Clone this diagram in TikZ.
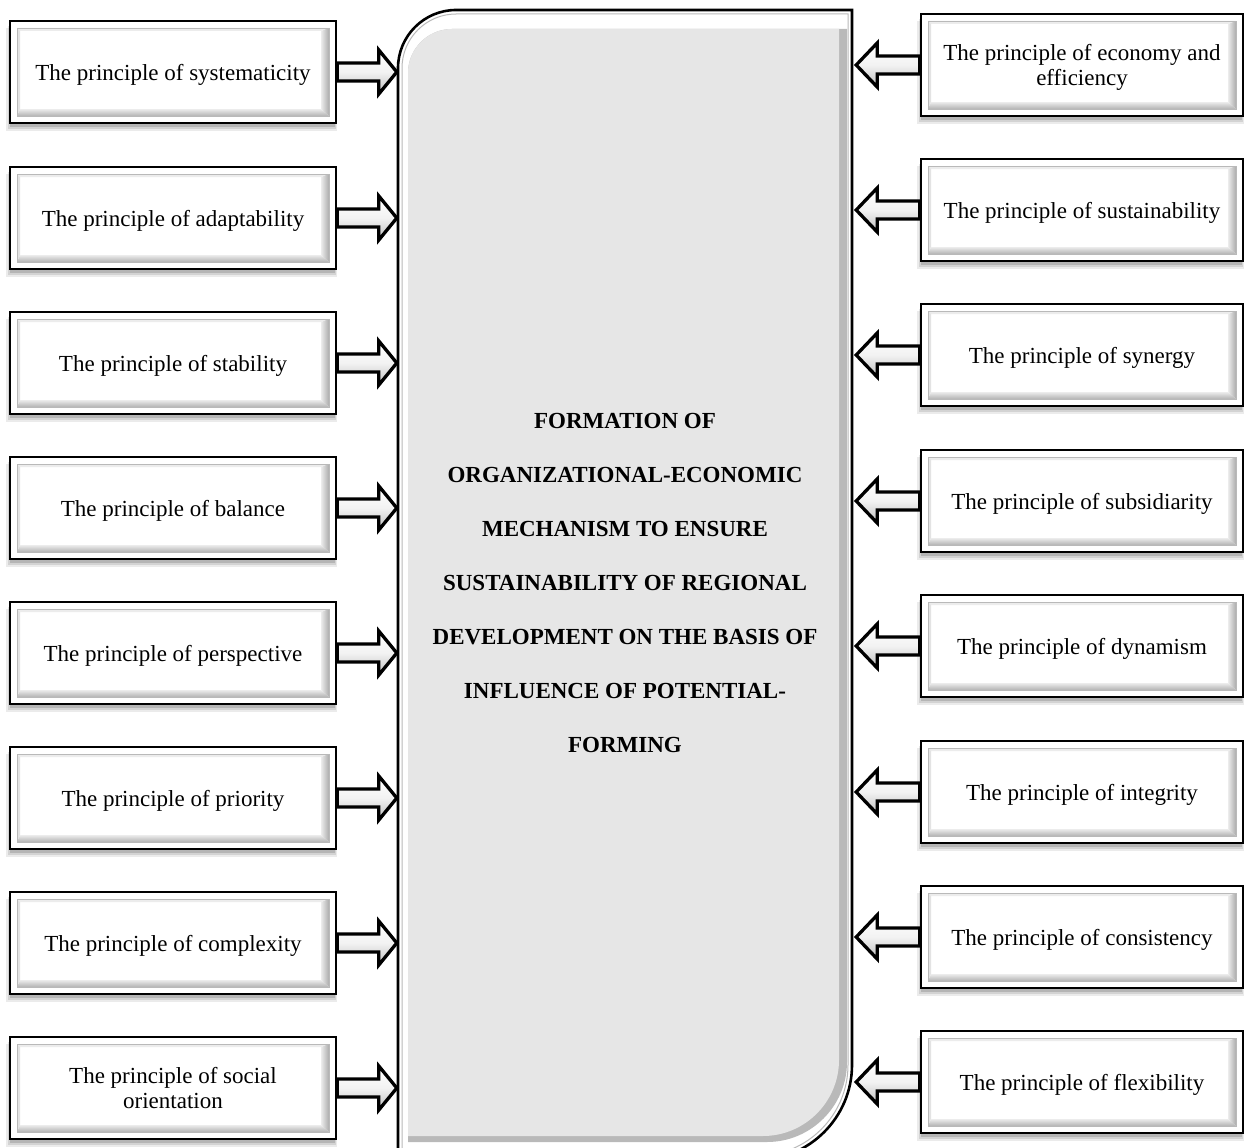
\documentclass[tikz,border=0pt]{standalone}
\usepackage{fontspec}
\setmainfont{Liberation Serif}
\usetikzlibrary{calc}
\definecolor{facegray}{RGB}{230,230,230}
\tikzset{
  boxtext/.style={align=center, font=\fontsize{23}{25}\selectfont, inner sep=0pt, text depth=0pt},
  boxframe/.style={draw=black, line width=2.6pt},
  blockarrow/.style={draw=black, line width=3.3pt, line join=miter, top color=white, bottom color=gray!50, middle color=gray!10},
  coretext/.style={align=center, font=\fontsize{23}{54}\selectfont\bfseries, inner sep=0pt},
}
% central shape: [opts]{L}{T}{R}{B}{r top-left}{r bottom-right}
\newcommand\coreshape[7][]{\path[#1] (#2,#5) -- (#2,{#3+#6}) .. controls (#2,{#3+0.45*#6}) and ({#2+0.45*#6},#3) .. ({#2+#6},#3) -- (#4,#3) -- (#4,{#5-#7}) .. controls (#4,{#5-0.45*#7}) and ({#4-0.45*#7},#5) .. ({#4-#7},#5) -- cycle;}
% principle box: name, cx, cy, half width, text
\newcommand\pbox[5]{%
  \begin{scope}[shift={(#2,#3)}]
    \def\hw{#4}
    \fill[black,opacity=0.08] ({-\hw-4},-44) rectangle ({\hw+1},59);
    \fill[black,opacity=0.10] ({-\hw-2},-46) rectangle ({\hw},57);
    \fill[black,opacity=0.14] ({-\hw},-48) rectangle ({\hw-1},55);
    \fill[white] ({-\hw},-51) rectangle (\hw,51);
    \fill[gray!15] ({-\hw+7},-44) -- ({\hw-7},-44) -- ({\hw-15},-41) -- ({-\hw+10},-41) -- cycle;
    \fill[gray!22] ({-\hw+7},-44) -- ({-\hw+10},-41) -- ({-\hw+10},37) -- ({-\hw+7},44) -- cycle;
    \shade[left color=gray!15, right color=gray!65] ({\hw-7},-44) -- ({\hw-7},44) -- ({\hw-15},37) -- ({\hw-15},-41) -- cycle;
    \shade[top color=gray!15, bottom color=gray!60] ({-\hw+7},44) -- ({-\hw+10},37) -- ({\hw-15},37) -- ({\hw-7},44) -- cycle;
    \draw[gray!55, line width=0.6pt] ({-\hw+7},-44) rectangle ({\hw-7},44);
  \end{scope}
  \node[boxframe, boxtext, minimum width={(2*#4)*1pt}, minimum height=102pt] (#1) at (#2,#3) {#5};
}
% arrow from a left box to the core
\newcommand\toright[1]{%
  \coordinate (s) at (#1.east);
  \coordinate (t) at (#1.east -| core.west);
  \draw[blockarrow] ($(s)+(0,-9)$) -- ($(t)+(-19,-9)$) -- ($(t)+(-19,-22)$) -- ($(t)+(-1,0)$) -- ($(t)+(-19,22)$) -- ($(t)+(-19,9)$) -- ($(s)+(0,9)$) -- cycle;
}
% arrow from a right box to the core
\newcommand\toleft[1]{%
  \coordinate (s) at (#1.west);
  \coordinate (t0) at (#1.west -| core.east);
  \coordinate (t) at ($(t0)+(4,0)$);
  \draw[blockarrow] ($(s)+(0,-9)$) -- ($(t)+(21,-9)$) -- ($(t)+(21,-22)$) -- (t) -- ($(t)+(21,22)$) -- ($(t)+(21,9)$) -- ($(s)+(0,9)$) -- cycle;
}
\begin{document}
\begin{tikzpicture}[x=1pt,y=-1pt]
\fill[white] (0,0) rectangle (1245,1148);
\useasboundingbox (0,0) rectangle (1245,1148);

% central block
\coreshape[fill=white, draw=black, line width=2.6pt]{398}{10}{852}{1160}{58}{95}
\coreshape[draw=gray!55, line width=1pt]{402}{14}{848}{1156}{54}{91}
\coreshape[fill=gray!55]{408}{29}{847}{1142}{44}{80}
\coreshape[fill=facegray]{408}{29}{839}{1136}{44}{76}
\node[coretext, minimum width=454pt, minimum height=1150pt] (core) at (625,583)
  {FORMATION OF\\ORGANIZATIONAL-ECONOMIC\\MECHANISM TO ENSURE\\SUSTAINABILITY OF REGIONAL\\DEVELOPMENT ON THE BASIS OF\\INFLUENCE OF POTENTIAL-\\FORMING};

% left boxes
\pbox{L1}{173}{72}{163}{The principle of systematicity}
\pbox{L2}{173}{218}{163}{The principle of adaptability}
\pbox{L3}{173}{363}{163}{The principle of stability}
\pbox{L4}{173}{508}{163}{The principle of balance}
\pbox{L5}{173}{653}{163}{The principle of perspective}
\pbox{L6}{173}{798}{163}{The principle of priority}
\pbox{L7}{173}{943}{163}{The principle of complexity}
\pbox{L8}{173}{1088}{163}{The principle of social\\orientation}

% right boxes
\pbox{R1}{1082}{65}{161}{The principle of economy and\\efficiency}
\pbox{R2}{1082}{210}{161}{The principle of sustainability}
\pbox{R3}{1082}{355}{161}{The principle of synergy}
\pbox{R4}{1082}{501}{161}{The principle of subsidiarity}
\pbox{R5}{1082}{646}{161}{The principle of dynamism}
\pbox{R6}{1082}{792}{161}{The principle of integrity}
\pbox{R7}{1082}{937}{161}{The principle of consistency}
\pbox{R8}{1082}{1082}{161}{The principle of flexibility}

% arrows
\foreach \n in {L1,L2,L3,L4,L5,L6,L7,L8} {\toright{\n}}
\foreach \n in {R1,R2,R3,R4,R5,R6,R7,R8} {\toleft{\n}}
\end{tikzpicture}
\end{document}
